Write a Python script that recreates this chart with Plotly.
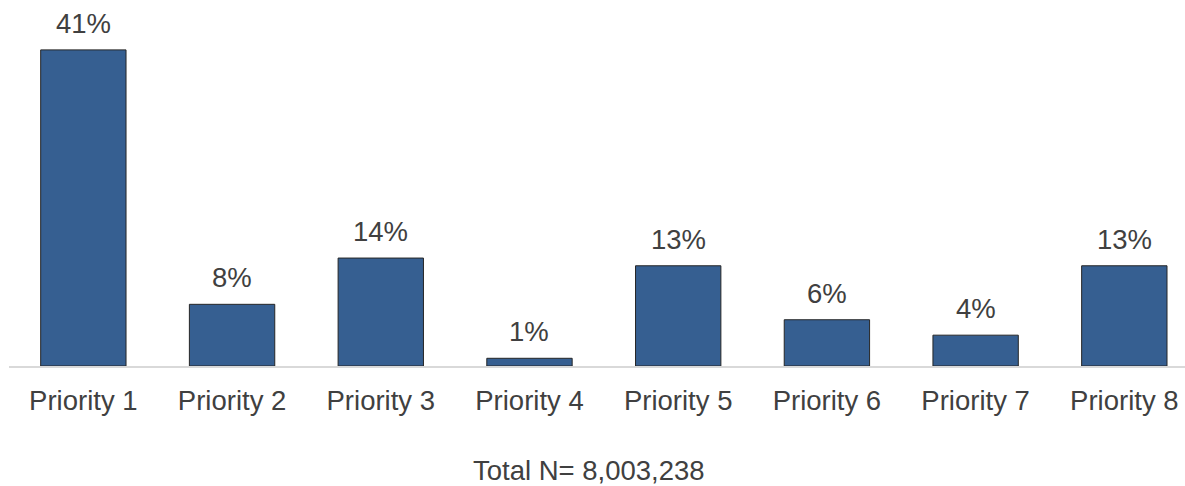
import plotly.graph_objects as go

categories = ["Priority 1", "Priority 2", "Priority 3", "Priority 4",
              "Priority 5", "Priority 6", "Priority 7", "Priority 8"]
values = [41, 8, 14, 1, 13, 6, 4, 13]
labels = ["41%", "8%", "14%", "1%", "13%", "6%", "4%", "13%"]
total_label = "Total N= 8,003,238"

FONT = "Arial, Liberation Sans, sans-serif"
TEXT_COLOR = "#404040"
FS = 27.5

fig = go.Figure()
fig.add_trace(go.Bar(
    x=categories, y=values,
    marker=dict(color="#365F91", line=dict(color="#262626", width=1)),
    width=0.574,
    hoverinfo="skip",
))

for c, v, t in zip(categories, values, labels):
    fig.add_annotation(x=c, y=v, text=t, showarrow=False, yanchor="bottom",
                       yshift=9, font=dict(family=FONT, size=FS, color=TEXT_COLOR))

fig.add_annotation(x=0.493, y=-0.285, xref="paper", yref="paper", text=total_label,
                   showarrow=False, yanchor="middle", xanchor="center",
                   font=dict(family=FONT, size=FS, color=TEXT_COLOR))

fig.update_layout(
    width=1185, height=486,
    margin=dict(l=9, r=0, t=0, b=119.5),
    paper_bgcolor="white", plot_bgcolor="white",
    showlegend=False,
    font=dict(family=FONT, size=FS, color=TEXT_COLOR),
    xaxis=dict(range=[-0.5, 7.408], showline=True, linecolor="#d9d9d9", linewidth=2,
               showgrid=False, zeroline=False, ticks="", ticklabelstandoff=9,
               tickfont=dict(family=FONT, size=FS, color=TEXT_COLOR), fixedrange=True),
    yaxis=dict(range=[0, 47.47], visible=False, showgrid=False, zeroline=False, fixedrange=True),
)

fig.write_html("out.html", config={"displayModeBar": False})
